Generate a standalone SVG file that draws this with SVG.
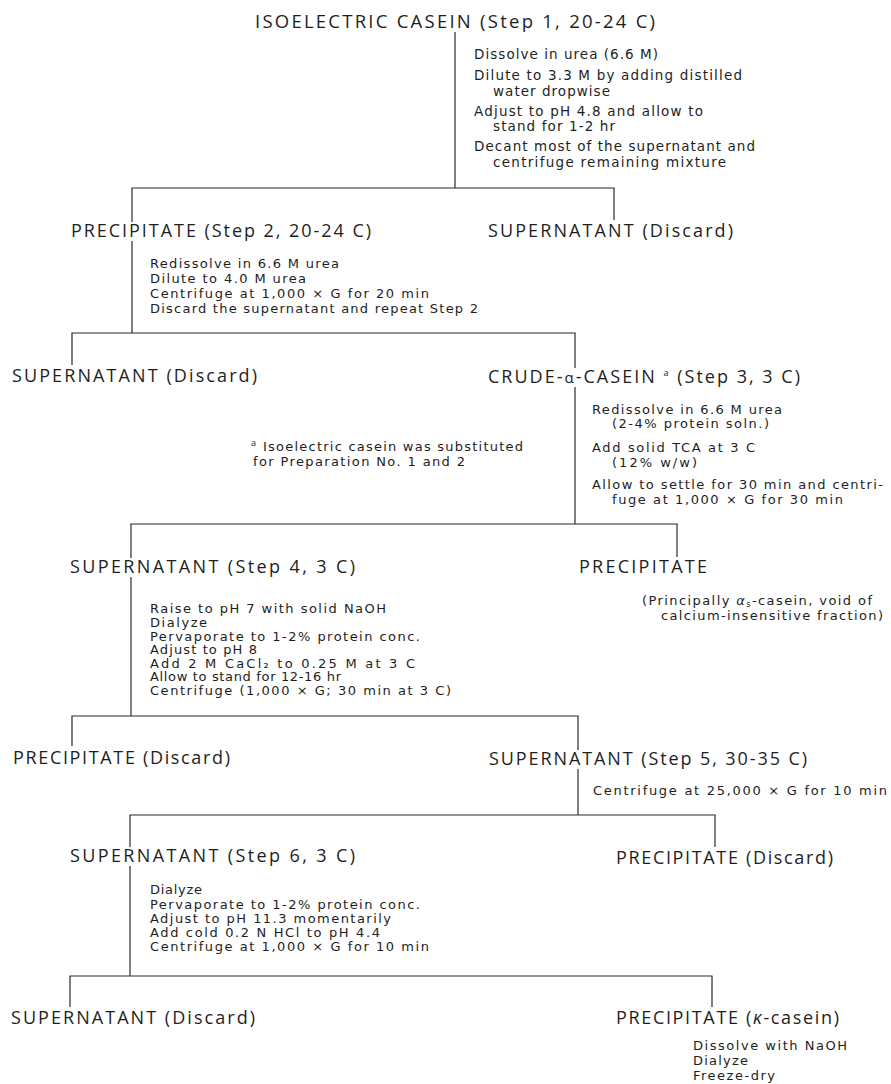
<svg xmlns="http://www.w3.org/2000/svg" width="891" height="1084" viewBox="0 0 891 1084">
<style>
text{font-family:"Open Sans","DejaVu Sans","Liberation Sans",sans-serif;fill:#1e1e1e}
.t{font-size:18.5px}
.h{font-size:18px}
.n,.n1,.f{font-family:"DejaVu Sans","Open Sans","Liberation Sans",sans-serif}
.n{font-size:13px}
.n1{font-size:13.5px}
.f{font-size:13px}
.sup{font-size:9px}
.it{font-style:italic}
.c line{stroke:#2a2a2a;stroke-width:1.2}
</style>
<rect width="891" height="1084" fill="#ffffff"/>
<g class="c" id="connectors">
<line x1="455" y1="32" x2="455" y2="188"/>
<line x1="131.5" y1="188" x2="614.5" y2="188"/>
<line x1="614" y1="188" x2="614" y2="220"/>
<line x1="132" y1="188" x2="132" y2="222"/>
<line x1="132" y1="241" x2="132" y2="333"/>
<line x1="71.5" y1="333" x2="575.5" y2="333"/>
<line x1="72" y1="333" x2="72" y2="365"/>
<line x1="575" y1="333" x2="575" y2="368"/>
<line x1="575" y1="387" x2="575" y2="524"/>
<line x1="130.5" y1="524" x2="677.5" y2="524"/>
<line x1="677" y1="524" x2="677" y2="557"/>
<line x1="131" y1="524" x2="131" y2="558"/>
<line x1="131" y1="577" x2="131" y2="716"/>
<line x1="71.5" y1="716" x2="578.5" y2="716"/>
<line x1="72" y1="716" x2="72" y2="746"/>
<line x1="578" y1="716" x2="578" y2="750"/>
<line x1="578" y1="769" x2="578" y2="815"/>
<line x1="129.5" y1="815" x2="715.5" y2="815"/>
<line x1="715" y1="815" x2="715" y2="847"/>
<line x1="130" y1="815" x2="130" y2="847"/>
<line x1="130" y1="866" x2="130" y2="976"/>
<line x1="69.5" y1="976" x2="712.5" y2="976"/>
<line x1="70" y1="976" x2="70" y2="1007"/>
<line x1="712" y1="976" x2="712" y2="1007"/>
</g>
<g id="step1">
<text class="t" x="255" y="28" textLength="400" lengthAdjust="spacing">ISOELECTRIC CASEIN (Step 1, 20-24 C)</text>
<text class="n1" x="474" y="59" textLength="184" lengthAdjust="spacing">Dissolve in urea (6.6 M)</text>
<text class="n1" x="474" y="80" textLength="268" lengthAdjust="spacing">Dilute to 3.3 M by adding distilled</text>
<text class="n1" x="493" y="96" textLength="117" lengthAdjust="spacing">water dropwise</text>
<text class="n1" x="474" y="116" textLength="229" lengthAdjust="spacing">Adjust to pH 4.8 and allow to</text>
<text class="n1" x="493" y="131" textLength="122" lengthAdjust="spacing">stand for 1-2 hr</text>
<text class="n1" x="474" y="151" textLength="281" lengthAdjust="spacing">Decant most of the supernatant and</text>
<text class="n1" x="493" y="167" textLength="233" lengthAdjust="spacing">centrifuge remaining mixture</text>
</g>
<g id="step2">
<text class="h" x="71" y="237" textLength="300" lengthAdjust="spacing">PRECIPITATE (Step 2, 20-24 C)</text>
<text class="n" x="150" y="268" textLength="189" lengthAdjust="spacing">Redissolve in 6.6 M urea</text>
<text class="n" x="150" y="283" textLength="156" lengthAdjust="spacing">Dilute to 4.0 M urea</text>
<text class="n" x="150" y="298" textLength="279" lengthAdjust="spacing">Centrifuge at 1,000 × G for 20 min</text>
<text class="n" x="150" y="313" textLength="328" lengthAdjust="spacing">Discard the supernatant and repeat Step 2</text>
</g>
<g id="supernatant-discard-1">
<text class="h" x="488" y="237" textLength="245" lengthAdjust="spacing">SUPERNATANT  (Discard)</text>
</g>
<g id="supernatant-discard-2">
<text class="h" x="12" y="382" textLength="245" lengthAdjust="spacing">SUPERNATANT  (Discard)</text>
</g>
<g id="step3">
<text class="h" x="488" y="383" textLength="312" lengthAdjust="spacing">CRUDE-<tspan font-size="15">α</tspan>-CASEIN <tspan class="sup" dy="-7">a</tspan><tspan dy="7"> (Step 3, 3 C)</tspan></text>
<text class="n" x="592" y="414" textLength="190" lengthAdjust="spacing">Redissolve in 6.6 M urea</text>
<text class="n" x="612" y="428" textLength="157" lengthAdjust="spacing">(2-4% protein soln.)</text>
<text class="n" x="592" y="452" textLength="163" lengthAdjust="spacing">Add solid TCA at 3 C</text>
<text class="n" x="612" y="467" textLength="85" lengthAdjust="spacing">(12% w/w)</text>
<text class="n" x="592" y="489" textLength="291" lengthAdjust="spacing">Allow to settle for 30 min and centri-</text>
<text class="n" x="612" y="504" textLength="231" lengthAdjust="spacing">fuge at 1,000 × G for 30 min</text>
</g>
<g id="footnote">
<text class="sup" x="251" y="446">a</text>
<text class="f" x="263" y="451" textLength="260" lengthAdjust="spacing">Isoelectric casein was substituted</text>
<text class="f" x="253" y="466" textLength="212" lengthAdjust="spacing">for Preparation No. 1 and 2</text>
</g>
<g id="step4">
<text class="h" x="70" y="573" textLength="285" lengthAdjust="spacing">SUPERNATANT (Step 4, 3 C)</text>
<text class="n" x="150" y="613" textLength="236" lengthAdjust="spacing">Raise to pH 7 with solid NaOH</text>
<text class="n" x="150" y="627" textLength="57" lengthAdjust="spacing">Dialyze</text>
<text class="n" x="150" y="641" textLength="270" lengthAdjust="spacing">Pervaporate to 1-2% protein conc.</text>
<text class="n" x="150" y="654" textLength="107" lengthAdjust="spacing">Adjust to pH 8</text>
<text class="n" x="150" y="668" textLength="265" lengthAdjust="spacing">Add 2 M  CaCl₂ to 0.25 M at 3 C</text>
<text class="n" x="150" y="681" textLength="191" lengthAdjust="spacing">Allow to stand for 12-16 hr</text>
<text class="n" x="150" y="695" textLength="301" lengthAdjust="spacing">Centrifuge (1,000 × G; 30 min at 3 C)</text>
</g>
<g id="precipitate-as">
<text class="h" x="579" y="573" textLength="128" lengthAdjust="spacing">PRECIPITATE</text>
<text class="n" x="642" y="605" textLength="230" lengthAdjust="spacing">(Principally <tspan class="it">α</tspan><tspan font-size="8" baseline-shift="-2">s</tspan>-casein, void of</text>
<text class="n" x="661" y="620" textLength="222" lengthAdjust="spacing">calcium-insensitive fraction)</text>
</g>
<g id="precipitate-discard-1">
<text class="h" x="13" y="764" textLength="217" lengthAdjust="spacing">PRECIPITATE (Discard)</text>
</g>
<g id="step5">
<text class="h" x="489" y="765" textLength="318" lengthAdjust="spacing">SUPERNATANT (Step 5, 30-35 C)</text>
<text class="n" x="593" y="795" textLength="294" lengthAdjust="spacing">Centrifuge  at 25,000 × G for 10 min</text>
</g>
<g id="step6">
<text class="h" x="70" y="862" textLength="285" lengthAdjust="spacing">SUPERNATANT (Step 6, 3 C)</text>
<text class="n" x="150" y="894" textLength="52" lengthAdjust="spacing">Dialyze</text>
<text class="n" x="150" y="909" textLength="270" lengthAdjust="spacing">Pervaporate to 1-2% protein conc.</text>
<text class="n" x="150" y="923" textLength="241" lengthAdjust="spacing">Adjust to pH 11.3 momentarily</text>
<text class="n" x="150" y="937" textLength="230" lengthAdjust="spacing">Add cold 0.2 N HCl to pH 4.4</text>
<text class="n" x="150" y="951" textLength="279" lengthAdjust="spacing">Centrifuge at 1,000 × G for 10 min</text>
</g>
<g id="precipitate-discard-2">
<text class="h" x="616" y="864" textLength="217" lengthAdjust="spacing">PRECIPITATE (Discard)</text>
</g>
<g id="supernatant-discard-3">
<text class="h" x="11" y="1024" textLength="244" lengthAdjust="spacing">SUPERNATANT  (Discard)</text>
</g>
<g id="kappa-casein">
<text class="h" x="616" y="1024" textLength="223" lengthAdjust="spacing">PRECIPITATE  (<tspan class="it">κ</tspan>-casein)</text>
<text class="n" x="693" y="1050" textLength="154" lengthAdjust="spacing">Dissolve with NaOH</text>
<text class="n" x="693" y="1065" textLength="55" lengthAdjust="spacing">Dialyze</text>
<text class="n" x="693" y="1080" textLength="82" lengthAdjust="spacing">Freeze-dry</text>
</g>
</svg>
